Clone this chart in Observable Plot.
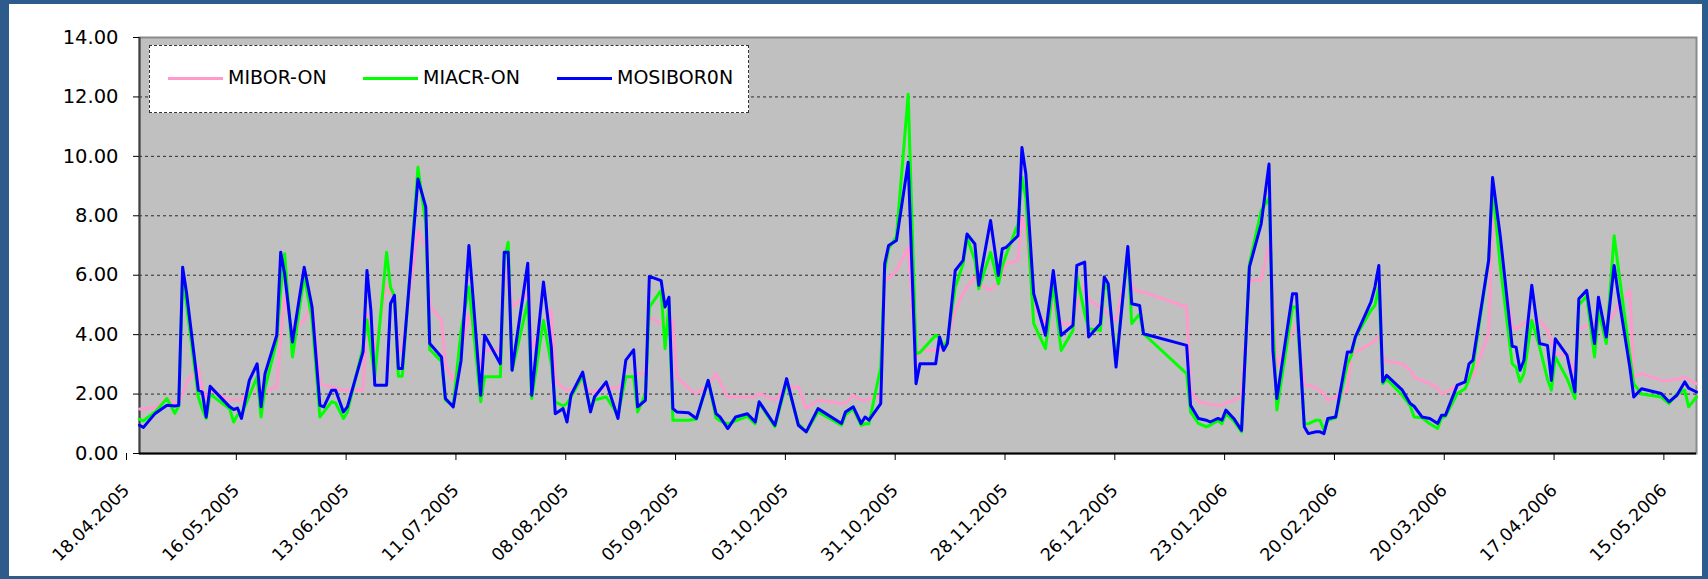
<!DOCTYPE html>
<html>
<head>
<meta charset="utf-8">
<script src="https://cdn.jsdelivr.net/npm/d3@7"></script>
<script src="https://cdn.jsdelivr.net/npm/@observablehq/plot@0.6"></script>
<style>
  html, body { margin: 0; padding: 0; }
  body { width: 1708px; height: 579px; background: #2d5b8c; position: relative; overflow: hidden; font-family: "DejaVu Sans", Verdana, sans-serif; }
  #panel { position: absolute; left: 9px; top: 4px; width: 1693px; height: 572px; background: #fff; }
  #chart { position: absolute; left: 0; top: 0; }
  #legend { position: absolute; left: 149px; top: 45px; width: 598px; height: 66px; background: #fff; border: 1px dashed #333; }
  .sw { position: absolute; top: 31px; width: 55px; height: 3px; }
  .lab { position: absolute; top: 20px; font-size: 19px; line-height: 22px; color: #000; white-space: nowrap; }
</style>
</head>
<body>
<div id="panel"></div>
<div id="chart"></div>
<div id="legend"></div>
<script>
const seriesNames = ["MIBOR-ON", "MIACR-ON", "MOSIBOR0N"];
const seriesColors = ["#ff99cc", "#00ff00", "#0000ff"];

const xStart = "2005-04-18";
const xEnd = "2006-05-20";
const xTickLabels = ["2005-04-18","2005-05-16","2005-06-13","2005-07-11","2005-08-08","2005-09-05","2005-10-03","2005-10-31","2005-11-28","2005-12-26","2006-01-23","2006-02-20","2006-03-20","2006-04-17","2006-05-15"];
const yTicks = [0, 2, 4, 6, 8, 10, 12, 14];
const yGrid = [2, 4, 6, 8, 10, 12];

const dates = ["2005-04-18","2005-04-19","2005-04-22","2005-04-25","2005-04-27","2005-04-28","2005-04-29","2005-04-30","2005-05-03","2005-05-04",
"2005-05-05","2005-05-06","2005-05-11","2005-05-12","2005-05-13","2005-05-14","2005-05-16","2005-05-18","2005-05-19","2005-05-20",
"2005-05-23","2005-05-24","2005-05-25","2005-05-27","2005-05-30","2005-06-01","2005-06-03","2005-06-04","2005-06-06","2005-06-07",
"2005-06-09","2005-06-10","2005-06-14","2005-06-15","2005-06-16","2005-06-17","2005-06-20","2005-06-21","2005-06-22","2005-06-23",
"2005-06-24","2005-06-28","2005-06-30","2005-07-01","2005-07-04","2005-07-05","2005-07-07","2005-07-09","2005-07-11","2005-07-14",
"2005-07-15","2005-07-19","2005-07-20","2005-07-21","2005-07-22","2005-07-26","2005-07-27","2005-07-30","2005-08-01","2005-08-02",
"2005-08-04","2005-08-05","2005-08-06","2005-08-09","2005-08-11","2005-08-12","2005-08-15","2005-08-18","2005-08-20","2005-08-22",
"2005-08-23","2005-08-25","2005-08-26","2005-08-29","2005-08-30","2005-08-31","2005-09-01","2005-09-02","2005-09-05","2005-09-07",
"2005-09-10","2005-09-12","2005-09-13","2005-09-15","2005-09-17","2005-09-20","2005-09-22","2005-09-23","2005-09-27","2005-09-30",
"2005-10-03","2005-10-05","2005-10-08","2005-10-14","2005-10-15","2005-10-17","2005-10-19","2005-10-20","2005-10-21","2005-10-24",
"2005-10-25","2005-10-26","2005-10-28","2005-10-31","2005-11-02","2005-11-03","2005-11-07","2005-11-08","2005-11-09","2005-11-10",
"2005-11-12","2005-11-14","2005-11-15","2005-11-17","2005-11-18","2005-11-21","2005-11-23","2005-11-24","2005-11-25","2005-11-28",
"2005-11-29","2005-11-30","2005-12-02","2005-12-05","2005-12-07","2005-12-09","2005-12-12","2005-12-13","2005-12-15","2005-12-16",
"2005-12-19","2005-12-20","2005-12-21","2005-12-23","2005-12-26","2005-12-27","2005-12-29","2005-12-30","2006-01-10","2006-01-11",
"2006-01-13","2006-01-15","2006-01-16","2006-01-18","2006-01-19","2006-01-20","2006-01-22","2006-01-24","2006-01-26","2006-01-29",
"2006-01-31","2006-02-01","2006-02-02","2006-02-06","2006-02-07","2006-02-09","2006-02-10","2006-02-12","2006-02-13","2006-02-14",
"2006-02-15","2006-02-17","2006-02-20","2006-02-21","2006-02-22","2006-02-26","2006-02-27","2006-02-28","2006-03-01","2006-03-02",
"2006-03-06","2006-03-08","2006-03-09","2006-03-11","2006-03-13","2006-03-15","2006-03-16","2006-03-17","2006-03-20","2006-03-22",
"2006-03-23","2006-03-24","2006-03-28","2006-03-29","2006-03-31","2006-04-03","2006-04-04","2006-04-05","2006-04-06","2006-04-08",
"2006-04-10","2006-04-12","2006-04-13","2006-04-14","2006-04-17","2006-04-19","2006-04-20","2006-04-22","2006-04-24","2006-04-25",
"2006-04-27","2006-04-29","2006-04-30","2006-05-03","2006-05-04","2006-05-06","2006-05-11","2006-05-13","2006-05-15","2006-05-17",
"2006-05-18","2006-05-20"];

const mibor = [1.5,1.5,1.55,1.85,1.7,1.7,2.0,2.4,2.9,2.1,
1.9,2.13,1.8,1.8,1.8,1.8,2.13,2.1,2.07,2.07,
2.24,3.9,5.26,4.14,4.48,5.04,2.35,2.3,2.24,2.2,
2.13,2.13,2.13,4.7,4.0,3.47,5.71,5.4,5.2,3.47,
3.47,7.5,6.94,5.0,4.48,3.0,2.46,3.5,4.7,2.91,
3.47,3.47,5.5,6.38,4.93,5.4,3.5,4.4,4.82,2.46,
2.2,2.13,2.13,2.35,2.1,2.07,2.24,2.2,2.5,2.6,
2.69,2.7,4.59,4.37,4.4,4.45,4.48,2.58,2.2,2.02,
2.3,2.69,2.4,1.9,1.9,1.9,1.9,2.02,1.79,2.24,
2.24,1.51,1.79,1.68,1.7,1.96,1.8,1.79,1.85,1.9,
5.82,5.9,6.16,6.94,3.2,3.47,3.47,3.5,3.6,3.8,
4.82,5.38,5.6,5.94,5.7,5.49,5.8,6.1,6.38,6.5,
7.95,7.5,4.93,4.37,5.0,4.37,4.37,5.0,5.71,5.2,
4.9,4.82,4.7,4.48,6.38,5.6,5.43,5.43,4.93,2.1,
1.75,1.68,1.65,1.62,1.62,1.7,1.8,1.9,5.82,5.82,
7.05,5.49,2.91,4.14,4.3,2.3,2.3,2.2,2.13,2.0,
1.79,1.9,2.13,3.36,3.4,3.7,3.81,4.0,3.25,3.1,
3.02,2.8,2.58,2.45,2.35,2.2,2.02,2.05,2.3,2.4,
2.46,2.6,4.03,7.95,6.8,4.26,4.2,4.3,4.4,4.45,
4.48,4.14,3.8,3.36,3.3,2.69,4.2,4.3,4.37,4.37,
4.37,4.7,5.0,5.49,2.58,2.69,2.46,2.46,2.5,2.58,
2.5,2.35];

const miacr = [1.15,1.1,1.4,1.85,1.35,1.6,6.0,5.0,1.9,1.5,
1.18,2.0,1.5,1.06,1.3,1.3,1.95,2.58,1.23,2.2,
3.8,5.5,6.72,3.25,6.0,4.5,1.23,1.4,1.74,1.7,
1.18,1.4,3.58,4.5,3.5,2.6,6.77,5.6,5.3,2.6,
2.6,9.63,7.73,3.5,3.1,1.8,1.6,4.14,5.6,1.74,
2.58,2.58,6.5,7.11,2.8,5.1,1.85,4.48,3.0,1.74,
1.6,1.68,1.9,2.6,1.5,1.8,1.9,1.3,2.58,2.58,
1.4,2.0,4.93,5.49,3.53,5.0,1.12,1.12,1.12,1.15,
2.46,1.2,1.1,1.0,1.1,1.25,1.0,1.7,0.9,2.4,
1.0,0.73,1.4,0.95,1.3,1.5,0.95,1.0,1.0,2.91,
6.16,6.9,7.3,12.09,3.36,3.4,3.98,3.9,3.58,3.8,
5.6,6.38,7.28,6.5,5.54,6.77,5.71,6.3,6.7,7.73,
9.29,8.6,4.37,3.53,5.7,3.47,4.14,6.0,4.7,4.2,
4.14,5.71,5.5,3.1,6.83,4.37,4.7,4.03,2.69,1.4,
1.01,0.9,0.95,1.1,1.0,1.34,1.1,0.73,6.38,8.17,
8.6,4.5,1.46,4.93,4.93,1.01,1.0,1.12,1.12,0.78,
1.12,1.2,3.02,3.3,3.9,4.82,4.98,5.6,2.35,2.5,
1.96,1.6,1.23,1.2,1.0,0.84,1.2,1.25,2.02,2.18,
2.5,2.91,6.5,8.96,6.27,3.02,2.9,2.41,2.69,4.48,
3.58,2.5,2.13,3.25,2.52,1.85,5.0,5.3,3.25,4.82,
3.7,7.33,6.3,3.3,2.35,2.0,1.9,1.68,2.0,2.13,
1.57,1.9];

const mosibor = [0.95,0.88,1.35,1.62,1.6,1.62,6.27,5.4,2.13,2.07,
1.23,2.26,1.57,1.48,1.53,1.18,2.46,3.02,1.57,2.69,
3.98,6.77,6.05,3.75,6.27,4.93,1.62,1.57,2.13,2.13,
1.4,1.57,3.42,6.16,4.82,2.3,2.3,5.04,5.32,2.86,
2.86,9.24,8.29,3.7,3.25,1.85,1.57,3.14,7.0,1.96,
3.98,3.02,6.77,6.77,2.8,6.4,1.96,5.77,3.58,1.34,
1.51,1.06,1.96,2.74,1.4,1.9,2.41,1.18,3.14,3.49,
1.57,1.79,5.96,5.82,4.93,5.26,1.51,1.4,1.37,1.18,
2.46,1.34,1.23,0.84,1.23,1.34,1.06,1.74,0.95,2.52,
0.95,0.73,1.51,1.01,1.4,1.57,1.01,1.23,1.12,1.68,
6.38,7.0,7.17,9.8,2.35,3.02,3.02,3.92,3.47,3.7,
6.16,6.5,7.39,7.05,5.66,7.84,5.99,6.89,6.94,7.33,
10.3,9.41,5.38,3.98,6.16,3.98,4.31,6.33,6.44,3.92,
4.37,5.94,5.71,2.91,6.97,5.04,4.98,4.03,3.64,1.62,
1.18,1.12,1.06,1.18,1.12,1.46,1.18,0.78,6.27,7.73,
9.74,3.47,1.85,5.38,5.38,0.9,0.67,0.73,0.73,0.67,
1.18,1.23,3.42,3.42,3.92,5.1,5.6,6.33,2.41,2.63,
2.13,1.68,1.59,1.23,1.18,1.01,1.29,1.29,2.3,2.41,
3.02,3.14,6.5,9.29,7.28,3.61,3.58,2.8,3.14,5.66,
3.7,3.64,2.46,3.86,3.3,2.07,5.21,5.49,3.7,5.26,
3.92,6.33,5.4,2.9,1.9,2.18,2.02,1.74,1.96,2.41,
2.2,2.07];

const parse = d3.utcParse("%Y-%m-%d");
const fmt = d3.utcFormat("%d.%m.%Y");
const n = Math.min(dates.length, mibor.length, miacr.length, mosibor.length);
const valueArrays = [mibor, miacr, mosibor];
const rows = [];
valueArrays.forEach((vals, s) => {
  for (let i = 0; i < n; i++) rows.push({date: parse(dates[i]), series: seriesNames[s], value: vals[i]});
});

const xDomain = [parse(xStart), parse(xEnd)];

const chart = Plot.plot({
  width: 1708,
  height: 579,
  marginLeft: 139,
  marginRight: 12,
  marginTop: 37,
  marginBottom: 126,
  style: {background: "transparent", fontFamily: "'DejaVu Sans', Verdana, sans-serif", fontSize: "19px", color: "#000"},
  x: {type: "utc", domain: xDomain},
  y: {domain: [0, 14]},
  color: {domain: seriesNames, range: seriesColors},
  marks: [
    Plot.frame({fill: "#c0c0c0", stroke: "#8a8a8a", strokeWidth: 2}),
    Plot.ruleY(yGrid, {stroke: "#111", strokeDasharray: "3,3", strokeWidth: 1, strokeOpacity: 0.85}),
    Plot.ruleX([xDomain[0]], {stroke: "#404040", strokeWidth: 2}),
    Plot.ruleY([0], {stroke: "#000", strokeWidth: 2}),
    Plot.axisY({ticks: yTicks, tickFormat: d => d.toFixed(2), tickSize: 6, tickPadding: 15, label: null, fontSize: 19.5}),
    Plot.axisX({ticks: xTickLabels.map(parse), tickFormat: fmt, tickSize: 7, tickPadding: 27, tickRotate: -45, dx: -13, label: null, fontSize: 17.5}),
    ...seriesNames.map(name =>
      Plot.line(rows, {filter: d => d.series === name, x: "date", y: "value", stroke: "series", strokeWidth: 3})
    )
  ]
});
document.getElementById("chart").appendChild(chart);

// Legend (HTML, drawn above the plot area like the original)
const legend = document.getElementById("legend");
const swLeft = [18, 213, 407];
seriesNames.forEach((name, i) => {
  const sw = document.createElement("div");
  sw.className = "sw";
  sw.style.left = swLeft[i] + "px";
  sw.style.background = seriesColors[i];
  legend.appendChild(sw);
  const lab = document.createElement("div");
  lab.className = "lab";
  lab.style.left = (swLeft[i] + 60) + "px";
  lab.textContent = name;
  legend.appendChild(lab);
});
</script>
</body>
</html>
